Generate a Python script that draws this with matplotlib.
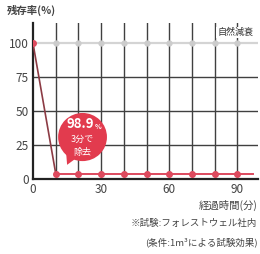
import matplotlib
matplotlib.use('Agg')
import matplotlib.pyplot as plt
from matplotlib.patches import Ellipse, Polygon

plt.rcParams['font.family'] = ['Noto Sans CJK JP', 'DejaVu Sans']

# データ
minutes = [0, 10, 20, 30, 40, 50, 60, 70, 80, 90]
remain = [100, 4, 4, 4, 4, 4, 4, 4, 4, 4]
natural = [100, 100, 100, 100, 100, 100, 100, 100, 100, 100]
xticks = [0, 30, 60, 90]
yticks = [0, 25, 50, 75, 100]

red = '#dd4a5e'
grid = '#404040'

fig = plt.figure(figsize=(2.6, 2.54), dpi=100)
ax = fig.add_axes([0.127, 0.295, 0.865, 0.614])
ax.set_xlim(0, 99)
ax.set_ylim(0, 115)

# グリッド
for x in minutes[1:]:
    ax.plot([x, x], [0, 115], color=grid, lw=1.0, zorder=1)
for y in yticks[1:-1]:
    ax.axhline(y, color=grid, lw=1.0, zorder=1)

# 自然減衰
ax.plot([0, 99], [natural[0], natural[-1]], color='#d4d4d4', lw=1.6, zorder=2)
ax.plot(minutes[1:], natural[1:], 'o', color='#cccccc', ms=3.5, zorder=3)
ax.text(97, 108, '自然減衰', fontsize=6.5, color='#333333', ha='right', va='center',
        bbox=dict(facecolor='white', edgecolor='none', pad=0.8), zorder=4)

# 残存率
ax.plot(minutes[:2], remain[:2], color='#8c3b44', lw=1.2, zorder=3)
ax.plot(minutes[1:] + [97], remain[1:] + [remain[-1]], color=red, lw=1.4, zorder=3)
ax.plot(minutes, remain, 'o', color=red, ms=4, zorder=4)

# 吹き出し
ax.add_patch(Ellipse((21.8, 31), 21.5, 35.5, facecolor='#e23b4e', edgecolor='none', zorder=5))
ax.add_patch(Polygon([[14.5, 21], [15.0, 10.5], [19.5, 16]], closed=True,
                     facecolor='#e23b4e', edgecolor='none', zorder=5))
ax.text(21.0, 40.5, '98.9', fontsize=9.5, fontweight='bold', color='white',
        ha='center', va='center', zorder=6)
ax.text(28.6, 38.5, '%', fontsize=5, fontweight='bold', color='white',
        ha='center', va='center', zorder=6)
ax.text(21.8, 29, '3分で', fontsize=6.5, color='white', ha='center', va='center', zorder=6)
ax.text(21.8, 19.5, '除去', fontsize=6.5, color='white', ha='center', va='center', zorder=6)

# 軸
for s in ['top', 'right']:
    ax.spines[s].set_visible(False)
ax.spines['left'].set_linewidth(1.6)
ax.spines['bottom'].set_linewidth(1.6)
ax.spines['left'].set_color('#222222')
ax.spines['bottom'].set_color('#222222')
ax.set_xticks(xticks)
ax.set_yticks(yticks)
ax.tick_params(length=0, labelsize=8.5, colors='#444444', pad=3)

fig.text(0.027, 0.96, '残存率(%)', fontsize=7.5, fontweight='bold', color='#444444', va='center')
fig.text(0.99, 0.19, '経過時間(分)', fontsize=7.5, color='#444444', ha='right', va='center')
fig.text(0.99, 0.12, '※試験:フォレストウェル社内', fontsize=6.8, color='#444444', ha='right', va='center')
fig.text(0.99, 0.045, '(条件:1m³による試験効果)', fontsize=6.8, color='#444444', ha='right', va='center')

fig.savefig('out.png', dpi=100, facecolor='white')
